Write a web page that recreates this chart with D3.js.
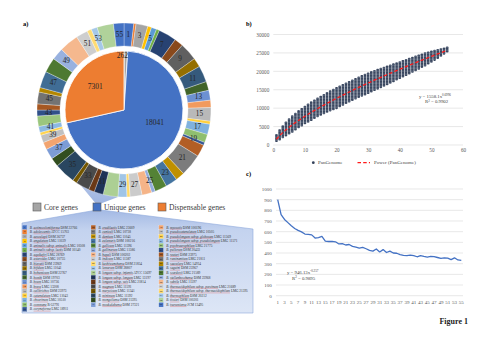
<!DOCTYPE html>
<html><head><meta charset="utf-8">
<script src="https://cdn.jsdelivr.net/npm/d3@7"></script>
<style>body{margin:0;background:#fff}svg{display:block}</style>
</head><body><svg id="c" width="496" height="349"></svg>
<script>
// ---------------- DATA ----------------
const pieCategories = ["Core genes", "Unique genes", "Dispensable genes"];
const pieValues = [262, 18041, 7301];

const strainIds = [1,2,3,4,5,6,7,8,9,10,11,12,13,14,15,16,17,18,19,20,21,22,23,24,25,26,27,28,29,30,31,32,33,34,35,36,37,38,39,40,41,42,43,44,45,46,47,48,49,50,51,52,53,54,55];
const ringValues = [326,74,398,127,176,102,604,298,597,305,548,296,331,247,455,98,349,279,97,404,748,303,397,406,122,329,402,103,298,497,304,198,455,148,705,297,354,249,253,96,203,348,197,204,399,152,556,498,404,648,397,147,203,553,349];

const species = [
"actinocoloniiforma DSM 22766","adolescentis ATCC 15703","aesculapii DSM 26737","angulatum LMG 11039",
"animalis subsp. animalis LMG 10508","animalis subsp. lactis DSM 10140","aquikefiri LMG 28769","asteroides LMG 10735",
"biavatii DSM 23969","bifidum LMG 11041","bohemicum DSM 22767","bombi DSM 19703","boum LMG 10736","breve LMG 13208",
"callitrichos DSM 23973","catenulatum LMG 11043","choerinum LMG 10510","commune R-52791","coryneforme LMG 18911",
"crudilactis LMG 23609","cuniculi LMG 10738","dentium LMG 11045","eulemuris DSM 100216","gallicum LMG 11596",
"gallinarum LMG 11586","hapali DSM 100202","indicum LMG 11587","kashiwanohense DSM 21854","lemurum DSM 28807",
"longum subsp. infantis ATCC 15697","longum subsp. longum LMG 13197","longum subsp. suis LMG 21814","magnum LMG 11591",
"merycicum LMG 11341","minimum LMG 11592","mongoliense DSM 21395","moukalabense DSM 27321",
"myosotis DSM 100196","pseudocatenulatum LMG 10505","pseudolongum subsp. globosum LMG 11569",
"pseudolongum subsp. pseudolongum LMG 11571","psychraerophilum LMG 21775","pullorum DSM 20433","reuteri DSM 23975",
"ruminantium LMG 21811","saeculare LMG 14934","saguini DSM 23967","scardovii LMG 21589","stellenboschense DSM 23968",
"subtile LMG 11597","thermacidophilum subsp. porcinum LMG 21689","thermacidophilum subsp. thermacidophilum LMG 21395",
"thermophilum DSM 20212","tissieri DSM 100201","tsurumiense JCM 13495"];
const speciesPerColumn = [19, 18, 18];

// b) pan-genome
const panX = strainIds;
const panMin = [1100,1500,2100,2600,3100,3600,4200,4800,5300,5900,6300,6800,7300,7800,8200,8600,9000,9400,9700,10000,10500,10900,11400,11800,12200,12600,13000,13400,13700,14100,14500,14900,15300,15700,16100,16500,16900,17300,17800,18200,18600,19000,19400,19900,20300,20700,21200,21600,22100,22600,23100,23600,24200,24800,25400];
const panMax = [2700,4000,5100,6100,7000,7800,8500,9200,9800,10400,11000,11600,12100,12600,13100,13600,14100,14600,15000,15500,15900,16300,16700,17100,17500,17900,18300,18700,19100,19400,19800,20100,20400,20700,21000,21300,21600,21900,22200,22500,22800,23100,23400,23700,24000,24300,24600,24900,25100,25400,25600,25800,26000,26200,26500];
const powerA = 1558.1, powerB = 0.6996;
const bYTicks = [0,5000,10000,15000,20000,25000,30000];
const bXTicks = [0,10,20,30,40,50,60];

// c) new genes
const newGenes = [900,760,715,685,655,630,612,598,578,575,570,540,545,555,512,508,510,505,485,488,475,480,462,455,445,452,440,425,418,438,410,432,405,418,400,398,385,378,375,380,376,365,375,368,362,368,366,358,350,355,352,338,355,335,332];
const cYTicks = [0,100,200,300,400,500,600,700,800,900,1000];
const cXLabels = [1,3,5,7,9,11,13,15,17,19,21,23,25,27,29,31,33,35,37,39,41,43,45,47,49,51,53,55];

// ---------------- STYLE ----------------
const SERIF = "'Liberation Serif','Times New Roman',serif";
const pieColors = ["#A5A5A5", "#4472C4", "#ED7D31"];
const accents = ["#4472C4","#ED7D31","#A5A5A5","#FFC000","#5B9BD5","#70AD47"];
const shadeSteps = [0,-0.42,0.22,-0.25,0.42,-0.55,0.3,-0.3,0.45,0];
function ringColor(i){
  const c = d3.rgb(accents[i % 6]); const f = shadeSteps[Math.floor(i/6)];
  const t = v => f < 0 ? v*(1+f) : v + (255-v)*f;
  return d3.rgb(t(c.r), t(c.g), t(c.b)).formatHex();
}
const plain = d3.format("d");

const svg = d3.select("#c");
svg.append("rect").attr("width",496).attr("height",349).attr("fill","#fff");
const defs = svg.append("defs");
const lg = defs.append("linearGradient").attr("id","callGrad").attr("x1",0).attr("y1",0).attr("x2",0).attr("y2",1);
lg.append("stop").attr("offset","0%").attr("stop-color","#a3b9e4");
lg.append("stop").attr("offset","20%").attr("stop-color","#c4d3ef");
lg.append("stop").attr("offset","100%").attr("stop-color","#dde6f6");
const wg = defs.append("linearGradient").attr("id","wedgeGrad").attr("x1",0).attr("y1",0).attr("x2",0).attr("y2",1);
wg.append("stop").attr("offset","0%").attr("stop-color","#c9d6f0");
wg.append("stop").attr("offset","100%").attr("stop-color","#9db3e0");
const pat = defs.append("pattern").attr("id","panPat").attr("patternUnits","userSpaceOnUse").attr("width",3).attr("height",1.5);
pat.append("rect").attr("width",3).attr("height",1.5).attr("fill","#34415a");
pat.append("rect").attr("y",1.1).attr("width",3).attr("height",0.35).attr("fill","#7c879c");

// ---------------- PANEL A ----------------
const cxA = 124, cyA = 110;
const line = d3.line();
svg.append("path").attr("d", line([[58,158],[97,205],[118,197],[103,187],[73,171]]) + "Z").attr("fill","url(#wedgeGrad)");
svg.append("path").attr("d", line([[97,210],[22,223],[22,313],[253,313],[253,229],[101,210]]) + "Z")
  .attr("fill","url(#callGrad)").attr("stroke","#8eaadb").attr("stroke-width",0.6);

const gA = svg.append("g").attr("transform",`translate(${cxA},${cyA})`);
const pieGen = d3.pie().sort(null).value(d => d);
const pieArcs = pieGen(pieValues);
const pieArc = d3.arc().innerRadius(0).outerRadius(59);
gA.selectAll("path.pie").data(pieArcs).join("path").attr("class","pie")
  .attr("d", pieArc).attr("fill",(d,i)=>pieColors[i]).attr("stroke","#fff").attr("stroke-width",0.8);
const pieLabelR = [55, 33, 37];
const pieLabelShift = [-0.06, -0.32, 0];
gA.selectAll("text.pl").data(pieArcs).join("text").attr("class","pl")
  .attr("x",(d,i)=>{const a=(d.startAngle+d.endAngle)/2+pieLabelShift[i];return Math.sin(a)*pieLabelR[i];})
  .attr("y",(d,i)=>{const a=(d.startAngle+d.endAngle)/2+pieLabelShift[i];return -Math.cos(a)*pieLabelR[i];})
  .attr("text-anchor","middle").attr("dominant-baseline","central")
  .attr("font-family",SERIF).attr("font-size",7.5).attr("fill","#262626")
  .text(d=>d.data);

const ringArcs = pieGen(ringValues);
const ringArc = d3.arc().innerRadius(64).outerRadius(87);
gA.selectAll("path.ring").data(ringArcs).join("path").attr("class","ring")
  .attr("d", ringArc).attr("fill",(d,i)=>ringColor(i)).attr("stroke","#fff").attr("stroke-width",0.3);
gA.selectAll("text.rl").data(ringArcs.filter((d,i)=>i%2===0)).join("text").attr("class","rl")
  .attr("transform", d=>`translate(${ringArc.centroid(d)})`)
  .attr("text-anchor","middle").attr("dominant-baseline","central")
  .attr("font-family",SERIF).attr("font-size",7.2).attr("fill","#262626")
  .text(d=>strainIds[d.index]);

svg.append("text").attr("x",23).attr("y",26).attr("font-family",SERIF).attr("font-weight","bold").attr("font-size",6.5).text("a)");

const legX = [33, 93, 158];
pieCategories.forEach((c,i)=>{
  svg.append("rect").attr("x",legX[i]).attr("y",203).attr("width",8).attr("height",8)
    .attr("fill",pieColors[i]).attr("stroke","#595959").attr("stroke-width",0.6);
  svg.append("text").attr("x",legX[i]+11).attr("y",207.2).attr("dominant-baseline","central")
    .attr("font-family",SERIF).attr("font-size",7.6).attr("fill","#404040").text(c);
});

const colX = [22.3, 91, 158.8];
const rowStep = 4.55, row0 = 227.4;
let idx = 0;
speciesPerColumn.forEach((n,ci)=>{
  for(let r=0;r<n;r++){
    const i = idx++;
    const y = row0 + r*rowStep;
    svg.append("rect").attr("x",colX[ci]).attr("y",y-rowStep/2).attr("width",4.6).attr("height",rowStep)
      .attr("fill",ringColor(i)).attr("stroke","#fff").attr("stroke-width",0.15);
    svg.append("text").attr("x",colX[ci]+2.3).attr("y",y).attr("text-anchor","middle").attr("dominant-baseline","central")
      .attr("font-family",SERIF).attr("font-size",2.6).attr("fill","#222").text(strainIds[i]);
    const s = species[i];
    const m = s.match(/\s(DSM|LMG|ATCC|JCM|R-)/);
    const name = s.slice(0, m.index), strain = s.slice(m.index);
    const t = svg.append("text").attr("x",colX[ci]+7.5).attr("y",y+1.1)
      .attr("font-family",SERIF).attr("font-size",3.4).attr("fill","#333");
    t.append("tspan").attr("font-style","italic").text("B. ");
    t.append("tspan").attr("font-style","italic").text(name);
    t.append("tspan").text(strain);
    try{
      const x0 = t.node().getSubStringLength(0,3);
      const w = t.node().getSubStringLength(3,name.length);
      svg.append("line").attr("x1",colX[ci]+7.5+x0).attr("x2",colX[ci]+7.5+x0+w).attr("y1",y+1.8).attr("y2",y+1.8)
        .attr("stroke","#e0403a").attr("stroke-width",0.3);
    }catch(e){}
  }
});

// ---------------- PANEL B ----------------
const bx = d3.scaleLinear().domain([0,60]).range([273.3,463]);
const by = d3.scaleLinear().domain([0,30000]).range([145,34.5]);
svg.append("g").selectAll("line").data(bYTicks).join("line")
  .attr("x1",bx(0)).attr("x2",bx(60)).attr("y1",d=>by(d)).attr("y2",d=>by(d))
  .attr("stroke","#d9d9d9").attr("stroke-width",0.6);
const bLeft = svg.append("g").attr("transform",`translate(${bx(0)},0)`)
  .call(d3.axisLeft(by).tickValues(bYTicks).tickFormat(plain).tickSize(0).tickPadding(4));
bLeft.select(".domain").remove();
bLeft.attr("font-family",SERIF).attr("font-size",5.2).selectAll("text").attr("fill","#595959");
const bBottom = svg.append("g").attr("transform",`translate(0,${by(0)})`)
  .call(d3.axisBottom(bx).tickValues(bXTicks).tickFormat(plain).tickSize(0).tickPadding(3.5));
bBottom.select(".domain").remove();
bBottom.attr("font-family",SERIF).attr("font-size",5.2).selectAll("text").attr("fill","#595959");

svg.append("g").selectAll("rect").data(panX).join("rect")
  .attr("x",(d)=>bx(d)-1.3).attr("width",2.6)
  .attr("y",(d,i)=>by(panMax[i])-1).attr("height",(d,i)=>by(panMin[i])-by(panMax[i])+2)
  .attr("rx",0.8).attr("fill","url(#panPat)");

const trendX = d3.range(1, 55.001, 0.5);
svg.append("path").datum(trendX)
  .attr("d", d3.line().x(d=>bx(d)).y(d=>by(powerA*Math.pow(d,powerB))))
  .attr("fill","none").attr("stroke","#ff1a1a").attr("stroke-width",1.3).attr("stroke-dasharray","3.5,2.2");

const eqB = svg.append("text").attr("x",419).attr("y",97.8).attr("font-family",SERIF).attr("font-size",4.8).attr("fill","#404040");
eqB.append("tspan").text("y = 1558.1x");
eqB.append("tspan").attr("dy",-1.6).attr("font-size",3.2).text("0.6996");
const r2B = svg.append("text").attr("x",425).attr("y",103.3).attr("font-family",SERIF).attr("font-size",4.8).attr("fill","#404040");
r2B.append("tspan").text("R");
r2B.append("tspan").attr("dy",-1.6).attr("font-size",3.2).text("2");
r2B.append("tspan").attr("dy",1.6).text(" = 0.9902");

svg.append("circle").attr("cx",313.3).attr("cy",162.7).attr("r",1.4).attr("fill","#34415a");
svg.append("text").attr("x",318).attr("y",162.9).attr("dominant-baseline","central").attr("font-family",SERIF).attr("font-size",5).attr("fill","#404040").text("PanGenome");
svg.append("line").attr("x1",357.5).attr("x2",370).attr("y1",162.7).attr("y2",162.7).attr("stroke","#ff1a1a").attr("stroke-width",1.3).attr("stroke-dasharray","3.5,2.2");
svg.append("text").attr("x",374).attr("y",162.9).attr("dominant-baseline","central").attr("font-family",SERIF).attr("font-size",5).attr("fill","#404040").text("Power (PanGenome)");

svg.append("text").attr("x",246).attr("y",26).attr("font-family",SERIF).attr("font-weight","bold").attr("font-size",6.5).text("b)");

// ---------------- PANEL C ----------------
const cx = d3.scaleBand().domain(strainIds).range([276,463]);
const cy = d3.scaleLinear().domain([0,1000]).range([295.7,189]);
svg.append("g").selectAll("line").data(cYTicks).join("line")
  .attr("x1",276).attr("x2",463).attr("y1",d=>cy(d)).attr("y2",d=>cy(d))
  .attr("stroke","#d9d9d9").attr("stroke-width",0.6);
const cLeft = svg.append("g").attr("transform","translate(276,0)")
  .call(d3.axisLeft(cy).tickValues(cYTicks).tickFormat(plain).tickSize(0).tickPadding(4.3));
cLeft.select(".domain").remove();
cLeft.attr("font-family",SERIF).attr("font-size",5).selectAll("text").attr("fill","#595959");
const cBottom = svg.append("g").attr("transform",`translate(0,${cy(0)})`)
  .call(d3.axisBottom(cx).tickValues(cXLabels).tickSize(0).tickPadding(4.5));
cBottom.select(".domain").remove();
cBottom.attr("font-family",SERIF).attr("font-size",5).selectAll("text").attr("fill","#595959");

svg.append("path").datum(newGenes)
  .attr("d", d3.line().x((d,i)=>cx(strainIds[i])+cx.bandwidth()/2).y(d=>cy(d)))
  .attr("fill","none").attr("stroke","#4472C4").attr("stroke-width",1.3).attr("stroke-linejoin","round");

const eqC = svg.append("text").attr("x",287).attr("y",273.6).attr("font-family",SERIF).attr("font-size",4.8).attr("fill","#404040");
eqC.append("tspan").text("y = 946.13x");
eqC.append("tspan").attr("dy",-1.6).attr("font-size",3.2).text("-0.257");
const r2C = svg.append("text").attr("x",292).attr("y",279.6).attr("font-family",SERIF).attr("font-size",4.8).attr("fill","#404040");
r2C.append("tspan").text("R");
r2C.append("tspan").attr("dy",-1.6).attr("font-size",3.2).text("2");
r2C.append("tspan").attr("dy",1.6).text(" = 0.9895");

svg.append("text").attr("x",246).attr("y",176).attr("font-family",SERIF).attr("font-weight","bold").attr("font-size",6.5).text("c)");

svg.append("text").attr("x",468).attr("y",324).attr("text-anchor","end").attr("font-family",SERIF).attr("font-weight","bold").attr("font-size",8).attr("fill","#222").text("Figure 1");
</script></body></html>
